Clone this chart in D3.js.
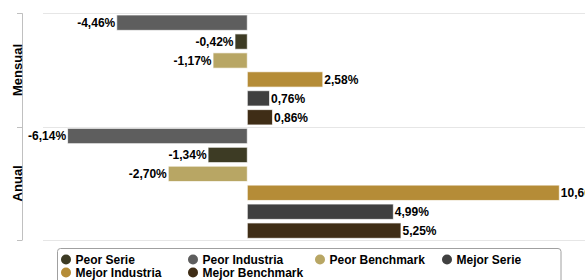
<!DOCTYPE html>
<html>
<head>
<meta charset="utf-8">
<script src="https://cdn.jsdelivr.net/npm/d3@7"></script>
<style>
  html, body { margin: 0; padding: 0; background: #fff; }
  svg { display: block; font-family: "Liberation Sans", Arial, Helvetica, sans-serif; }
</style>
</head>
<body>
<svg id="chart" width="585" height="280"></svg>
<script>
// ---- data ----
const categories = ["Mensual", "Anual"];
const seriesOrder = ["Peor Industria", "Peor Serie", "Peor Benchmark", "Mejor Industria", "Mejor Serie", "Mejor Benchmark"];
const mensualValues = [-4.46, -0.42, -1.17, 2.58, 0.76, 0.86];
const anualValues = [-6.14, -1.34, -2.70, 10.66, 4.99, 5.25];
const legendNames = ["Peor Serie", "Peor Industria", "Peor Benchmark", "Mejor Serie", "Mejor Industria", "Mejor Benchmark"];
const seriesColors = {
  "Peor Serie": "#3d3b24",
  "Peor Industria": "#5e5e5e",
  "Peor Benchmark": "#b8a664",
  "Mejor Serie": "#404040",
  "Mejor Industria": "#b58c37",
  "Mejor Benchmark": "#3f2d16"
};

const valuesByCat = { "Mensual": mensualValues, "Anual": anualValues };
const fmt = v => v.toFixed(2).replace(".", ",") + "%";

const svg = d3.select("#chart");

const plotLeft = 42.4, plotTop = 13.3, plotBottom = 240;
const x = d3.scaleLinear().domain([-7, 12]).range([plotLeft, plotLeft + 19 * 29.27]);
const y = d3.scaleBand().domain(categories).range([plotTop, plotBottom]);
const yInner = d3.scaleBand().domain(seriesOrder).range([0, y.bandwidth()]).paddingInner(0.19).paddingOuter(0.09);

// grid lines at category boundaries
const boundaries = [plotTop].concat(categories.map(c => y(c) + y.bandwidth()));
svg.append("g").selectAll("line").data(boundaries).join("line")
  .attr("x1", 43).attr("x2", 585)
  .attr("y1", d => Math.round(d) + 0.5).attr("y2", d => Math.round(d) + 0.5)
  .attr("stroke", "#e6e6e6").attr("stroke-width", 1);

// left axis line
const axisX = 22.5;
svg.append("line").attr("x1", axisX).attr("x2", axisX)
  .attr("y1", plotTop).attr("y2", plotBottom)
  .attr("stroke", "#c0c0c0");
svg.append("g").selectAll("line").data(boundaries).join("line")
  .attr("x1", 17).attr("x2", axisX)
  .attr("y1", d => Math.round(d) + 0.5).attr("y2", d => Math.round(d) + 0.5)
  .attr("stroke", "#c0c0c0");

// category labels
svg.append("g").selectAll("text").data(categories).join("text")
  .attr("transform", d => `translate(21.5,${y(d) + y.bandwidth() / 2}) rotate(-90)`)
  .attr("text-anchor", "middle")
  .attr("font-size", "13px").attr("font-weight", "bold").attr("fill", "#000")
  .text(d => d);

// bars
const rows = [];
categories.forEach(c => {
  valuesByCat[c].forEach((v, i) => rows.push({ cat: c, name: seriesOrder[i], value: v }));
});

const g = svg.append("g");
g.selectAll("rect").data(rows).join("rect")
  .attr("x", d => x(Math.min(0, d.value)))
  .attr("width", d => Math.abs(x(d.value) - x(0)))
  .attr("y", d => y(d.cat) + yInner(d.name))
  .attr("height", yInner.bandwidth())
  .attr("fill", d => seriesColors[d.name])
  .attr("stroke", "#ffffff").attr("stroke-opacity", 0.7).attr("stroke-width", 1);

g.selectAll("text").data(rows).join("text")
  .attr("x", d => d.value < 0 ? x(d.value) - 1.5 : x(d.value) + 1.5)
  .attr("y", d => y(d.cat) + yInner(d.name) + yInner.bandwidth() / 2)
  .attr("dy", "0.36em")
  .attr("text-anchor", d => d.value < 0 ? "end" : "start")
  .attr("font-size", "12px").attr("font-weight", "bold").attr("fill", "#000")
  .text(d => fmt(d.value));

// legend
const legend = svg.append("g");
legend.append("rect")
  .attr("x", 57.5).attr("y", 248.5).attr("width", 503.5).attr("height", 40)
  .attr("rx", 3).attr("fill", "#fff").attr("stroke", "#a0a0a0").attr("stroke-width", 1);
const colX = [66, 193, 320, 447];
const rowY = [259.5, 272.5];
const items = legendNames.map((n, i) => ({ name: n, cx: colX[i % 4], cy: rowY[Math.floor(i / 4)] }));
const li = legend.selectAll("g.item").data(items).join("g").attr("class", "item");
li.append("circle").attr("cx", d => d.cx).attr("cy", d => d.cy).attr("r", 5)
  .attr("fill", d => seriesColors[d.name]);
li.append("text").attr("x", d => d.cx + 9.5).attr("y", d => d.cy + 4.3)
  .attr("font-size", "12px").attr("font-weight", "bold").attr("fill", "#000")
  .text(d => d.name);
</script>
</body>
</html>
